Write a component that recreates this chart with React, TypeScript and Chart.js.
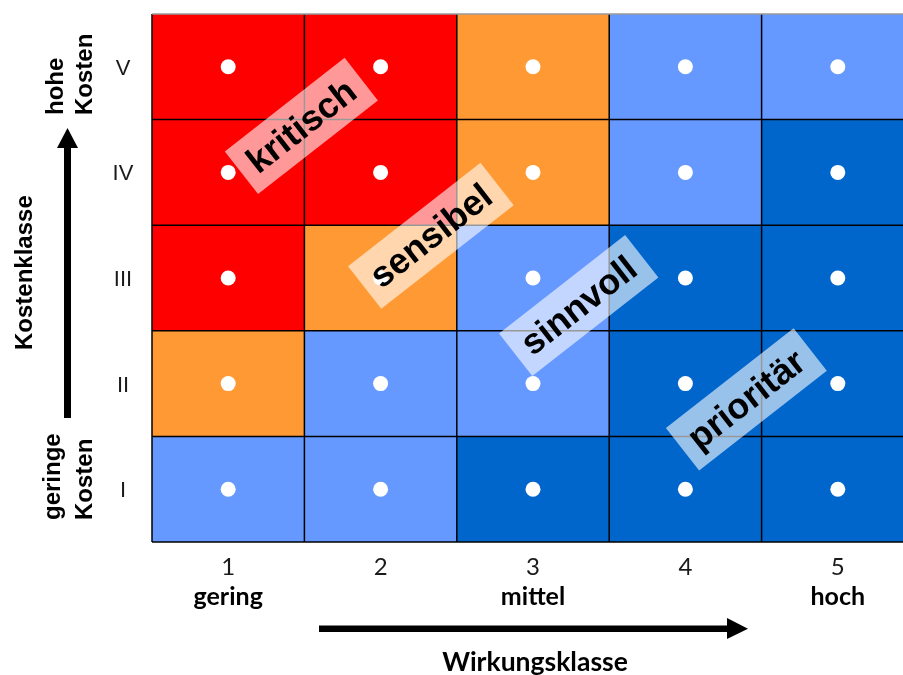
import React, { useEffect, useRef } from 'react';
import { Chart, registerables } from 'chart.js';

Chart.register(...registerables);

// Wirkungsklasse (x) and Kostenklasse (y)
const wirkungsklassen = [1, 2, 3, 4, 5];
const wirkungsTicks = ['1', '2', '3', '4', '5'];
const wirkungsStufen = ['gering', '', 'mittel', '', 'hoch'];
const kostenklassen = [1, 2, 3, 4, 5];
const kostenTicks = ['I', 'II', 'III', 'IV', 'V'];

// zone of every cell; rows from Kostenklasse I (bottom) up to V (top), columns Wirkungsklasse 1..5
const zoneRowI = ['sinnvoll', 'sinnvoll', 'prioritär', 'prioritär', 'prioritär'];
const zoneRowII = ['sensibel', 'sinnvoll', 'sinnvoll', 'prioritär', 'prioritär'];
const zoneRowIII = ['kritisch', 'sensibel', 'sinnvoll', 'prioritär', 'prioritär'];
const zoneRowIV = ['kritisch', 'kritisch', 'sensibel', 'sinnvoll', 'prioritär'];
const zoneRowV = ['kritisch', 'kritisch', 'sensibel', 'sinnvoll', 'sinnvoll'];
const zoneRows = [zoneRowI, zoneRowII, zoneRowIII, zoneRowIV, zoneRowV];

const zoneNames = ['kritisch', 'sensibel', 'sinnvoll', 'prioritär'];
const zoneColors = ['#FF0000', '#FF9933', '#6699FF', '#0066CC'];
// where the zone labels sit, in axis units
const zoneLabelX = [1.48, 2.33, 3.3, 4.4];
const zoneLabelY = [4.44, 3.4, 2.74, 1.85];

const points = kostenklassen.flatMap((k) => wirkungsklassen.map((w) => ({ x: w, y: k })));

const heatPlugin = {
  id: 'heatmapCells',
  beforeDatasetsDraw(chart: any) {
    const { ctx } = chart;
    const x = chart.scales.x;
    const y = chart.scales.y;
    ctx.save();
    zoneRows.forEach((row, ri) => {
      row.forEach((zone, ci) => {
        const xv = wirkungsklassen[ci];
        const yv = kostenklassen[ri];
        const l = x.getPixelForValue(xv - 0.5);
        const r = x.getPixelForValue(xv + 0.5);
        const t = y.getPixelForValue(yv + 0.5);
        const b = y.getPixelForValue(yv - 0.5);
        ctx.fillStyle = zoneColors[zoneNames.indexOf(zone)];
        ctx.fillRect(l, t, r - l, b - t);
      });
    });
    ctx.strokeStyle = '#000000';
    ctx.lineWidth = 1.5;
    const top = y.getPixelForValue(5.5);
    const bottom = y.getPixelForValue(0.5);
    const left = x.getPixelForValue(0.5);
    const right = x.getPixelForValue(5.5);
    for (let i = 0; i <= wirkungsklassen.length; i++) {
      const px = x.getPixelForValue(0.5 + i);
      ctx.beginPath();
      ctx.moveTo(px, top);
      ctx.lineTo(px, bottom);
      ctx.stroke();
    }
    for (let i = 0; i < kostenklassen.length; i++) {
      const py = y.getPixelForValue(0.5 + i);
      ctx.beginPath();
      ctx.moveTo(left, py);
      ctx.lineTo(right, py);
      ctx.stroke();
    }
    ctx.strokeStyle = '#9A9A9A';
    ctx.beginPath();
    ctx.moveTo(left, top);
    ctx.lineTo(right, top);
    ctx.stroke();
    ctx.restore();
  },
  afterDatasetsDraw(chart: any) {
    const { ctx } = chart;
    const x = chart.scales.x;
    const y = chart.scales.y;
    ctx.save();
    ctx.font = 'bold 36px "Liberation Sans", Arial, sans-serif';
    zoneNames.forEach((name, i) => {
      const cx = x.getPixelForValue(zoneLabelX[i]);
      const cy = y.getPixelForValue(zoneLabelY[i]);
      const w = ctx.measureText(name).width + 24;
      const h = 54;
      ctx.save();
      ctx.translate(cx, cy);
      ctx.rotate((-38 * Math.PI) / 180);
      ctx.fillStyle = 'rgba(255,255,255,0.6)';
      ctx.fillRect(-w / 2, -h / 2, w, h);
      ctx.fillStyle = '#000000';
      ctx.textAlign = 'center';
      ctx.textBaseline = 'middle';
      ctx.fillText(name, 0, 2);
      ctx.restore();
    });
    ctx.restore();
  },
  afterDraw(chart: any) {
    const { ctx } = chart;
    const x = chart.scales.x;
    const y = chart.scales.y;
    ctx.save();
    // y ticks
    ctx.fillStyle = '#1a1a1a';
    ctx.font = '22px "Liberation Sans", Arial, sans-serif';
    ctx.textAlign = 'center';
    ctx.textBaseline = 'alphabetic';
    kostenTicks.forEach((t, i) => {
      ctx.fillText(t, 123, y.getPixelForValue(kostenklassen[i]) + 8);
    });
    // x ticks
    ctx.font = '24px Lato, sans-serif';
    wirkungsTicks.forEach((t, i) => {
      ctx.fillText(t, x.getPixelForValue(wirkungsklassen[i]), 575);
    });
    ctx.fillStyle = '#000000';
    ctx.font = 'bold 25px Lato, sans-serif';
    wirkungsStufen.forEach((t, i) => {
      if (t) ctx.fillText(t, x.getPixelForValue(wirkungsklassen[i]), 605);
    });
    ctx.font = 'bold 26.5px Lato, sans-serif';
    ctx.fillText('Wirkungsklasse', 535, 671);

    // left labels (rotated)
    ctx.font = 'bold 24px "Liberation Sans", Arial, sans-serif';
    ctx.textAlign = 'left';
    const rot = (txt: string, px: number, py: number) => {
      ctx.save();
      ctx.translate(px, py);
      ctx.rotate(-Math.PI / 2);
      ctx.fillText(txt, 0, 0);
      ctx.restore();
    };
    rot('hohe', 63, 115);
    rot('Kosten', 92, 115);
    rot('geringe', 60, 520);
    rot('Kosten', 92, 520);
    rot('Kostenklasse', 32, 350);

    // arrows
    ctx.fillStyle = '#000000';
    ctx.fillRect(319, 625.5, 411, 6.5);
    ctx.beginPath();
    ctx.moveTo(727, 618);
    ctx.lineTo(748, 628.7);
    ctx.lineTo(727, 639);
    ctx.closePath();
    ctx.fill();
    ctx.fillRect(64, 146, 7, 272);
    ctx.beginPath();
    ctx.moveTo(57, 148);
    ctx.lineTo(67.5, 128);
    ctx.lineTo(78, 148);
    ctx.closePath();
    ctx.fill();
    ctx.restore();
  },
};

export default function App() {
  const ref = useRef<HTMLCanvasElement>(null);
  useEffect(() => {
    if (!ref.current) return;
    const chart = new Chart(ref.current, {
      type: 'scatter',
      data: {
        datasets: [
          {
            data: points,
            pointRadius: 7.5,
            pointHoverRadius: 7.5,
            backgroundColor: '#FFFFFF',
            borderWidth: 0,
          },
        ],
      },
      options: {
        responsive: false,
        animation: false,
        events: [],
        layout: { padding: { left: 152, top: 14, right: 16, bottom: 133 } },
        scales: {
          x: { type: 'linear', min: 0.5, max: 5.5, display: false },
          y: { type: 'linear', min: 0.5, max: 5.5, display: false },
        },
        plugins: { legend: { display: false }, tooltip: { enabled: false } },
      },
      plugins: [heatPlugin],
    } as any);
    return () => chart.destroy();
  }, []);
  return (
    <div style={{ position: 'fixed', left: 0, top: 0, width: 903, height: 675, overflow: 'hidden', background: '#ffffff' }}>
      <canvas ref={ref} width={930} height={675} style={{ display: 'block' }} />
    </div>
  );
}
